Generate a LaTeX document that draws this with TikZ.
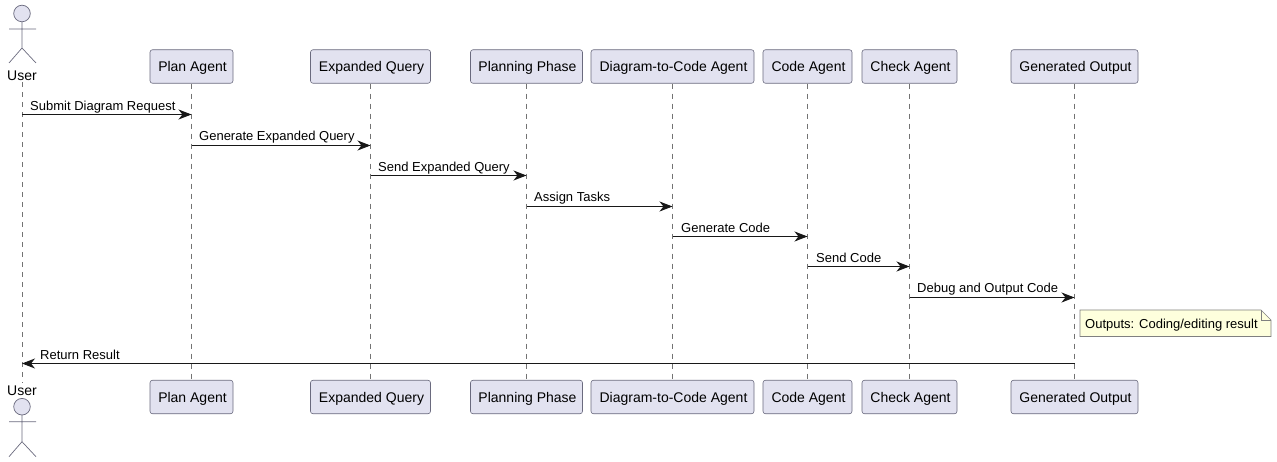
\documentclass[tikz,border=0pt]{standalone}
\usepackage{fontspec}
\setmainfont{Liberation Sans}
\usetikzlibrary{arrows.meta}
\definecolor{boxfill}{HTML}{E2E2F0}
\definecolor{boxline}{HTML}{6A6A7E}
\definecolor{inkline}{HTML}{181818}
\definecolor{notefill}{HTML}{FEFFDD}
\tikzset{
	part/.style={draw=boxline, fill=boxfill, rounded corners=2.5pt, line width=0.6pt, minimum height=33.5pt, inner sep=0pt, text height=10pt, text depth=0pt, font=\fontsize{14}{16}\selectfont, text=black, execute at begin node=\hspace*{2pt}},
	actorname/.style={inner sep=0pt, minimum height=13pt, minimum width=34pt, text height=10pt, text depth=0pt, font=\fontsize{14}{16}\selectfont, text=black},
	actorline/.style={draw=boxline, line width=0.7pt},
	lifeline/.style={draw=black!55, line width=0.6pt, dash pattern=on 5pt off 5pt},
	msg/.style={draw=inkline, line width=1pt, -{Stealth[length=13pt,width=10pt,inset=4pt]}},
	msglabel/.style={anchor=base west, inner sep=0pt, font=\fontsize{13}{15}\selectfont, text=black},
	notebox/.style={draw=black!50, fill=notefill, line width=0.6pt}
}
\begin{document}
\begin{tikzpicture}[x=1pt,y=-1pt]
	\useasboundingbox (0,0) rectangle (1277,462);
	%%%%% ACTORS %%%%%
	\draw[actorline, fill=boxfill] (22,13.5) circle (8.3);
	\draw[actorline] (22,21.8) -- (22,48) (9,29) -- (36,29) (9,63) -- (22,48) -- (36,63);
	\node[actorname] (user) at (22,75.7) {User};
	
	\draw[actorline, fill=boxfill] (22,406.7) circle (8.3);
	\draw[actorline] (22,415) -- (22,441.7) (9,421.7) -- (36,421.7) (9,456.7) -- (22,441.7) -- (36,456.7);
	\node[actorname] (userb) at (22,390) {User};
	
	%%%%% PARTICIPANTS %%%%%
	\node[part, minimum width=83pt] (plan) at (191.5,66.5) {Plan Agent};
	\node[part, minimum width=120pt] (query) at (370.5,66.5) {Expanded Query};
	\node[part, minimum width=112pt] (phase) at (526.5,66.5) {Planning Phase};
	\node[part, minimum width=163pt] (diagram) at (672.5,66.5) {Diagram-to-Code Agent};
	\node[part, minimum width=89pt] (code) at (807.5,66.5) {Code Agent};
	\node[part, minimum width=95pt] (check) at (909.5,66.5) {Check Agent};
	\node[part, minimum width=127pt] (output) at (1074.5,66.5) {Generated Output};
	
	\node[part, minimum width=83pt] (planb) at (191.5,397) {Plan Agent};
	\node[part, minimum width=120pt] (queryb) at (370.5,397) {Expanded Query};
	\node[part, minimum width=112pt] (phaseb) at (526.5,397) {Planning Phase};
	\node[part, minimum width=163pt] (diagramb) at (672.5,397) {Diagram-to-Code Agent};
	\node[part, minimum width=89pt] (codeb) at (807.5,397) {Code Agent};
	\node[part, minimum width=95pt] (checkb) at (909.5,397) {Check Agent};
	\node[part, minimum width=127pt] (outputb) at (1074.5,397) {Generated Output};
	
	%%%%% LIFELINES %%%%%
	\draw[lifeline] (user) -- (userb);
	\draw[lifeline] (plan) -- (planb);
	\draw[lifeline] (query) -- (queryb);
	\draw[lifeline] (phase) -- (phaseb);
	\draw[lifeline] (diagram) -- (diagramb);
	\draw[lifeline] (code) -- (codeb);
	\draw[lifeline] (check) -- (checkb);
	\draw[lifeline] (output) -- (outputb);
	
	%%%%% MESSAGES %%%%%
	\draw[msg] (user |- 0,114.5) -- (plan |- 0,114.5);
	\node[msglabel] (submit) at (30,110.5) {Submit Diagram Request};
	
	\draw[msg] (plan |- 0,145.5) -- (query |- 0,145.5);
	\node[msglabel] (generate) at (199,140.5) {Generate Expanded Query};
	
	\draw[msg] (query |- 0,175.5) -- (phase |- 0,175.5);
	\node[msglabel] (send) at (378,171.5) {Send Expanded Query};
	
	\draw[msg] (phase |- 0,206.5) -- (diagram |- 0,206.5);
	\node[msglabel] (assign) at (534,201.5) {Assign Tasks};
	
	\draw[msg] (diagram |- 0,236.5) -- (code |- 0,236.5);
	\node[msglabel] (gencode) at (681,232.5) {Generate Code};
	
	\draw[msg] (code |- 0,266.5) -- (check |- 0,266.5);
	\node[msglabel] (sendcode) at (816,262.5) {Send Code};
	
	\draw[msg] (check |- 0,297.5) -- (output |- 0,297.5);
	\node[msglabel] (debug) at (917,292.5) {Debug and Output Code};
	
	\draw[msg] (output |- 0,363.5) -- (user |- 0,363.5);
	\node[msglabel] (result) at (40,359.5) {Return Result};
	
	%%%%% NOTE %%%%%
	\draw[notebox] (1080,310) -- (1261,310) -- (1271,320) -- (1271,336.5) -- (1080,336.5) -- cycle;
	\draw[notebox, fill=none] (1261,310) -- (1261,320) -- (1271,320);
	\node[msglabel] (outputs) at (1085,328.5) {Outputs: Coding/editing result};
\end{tikzpicture}
\end{document}
